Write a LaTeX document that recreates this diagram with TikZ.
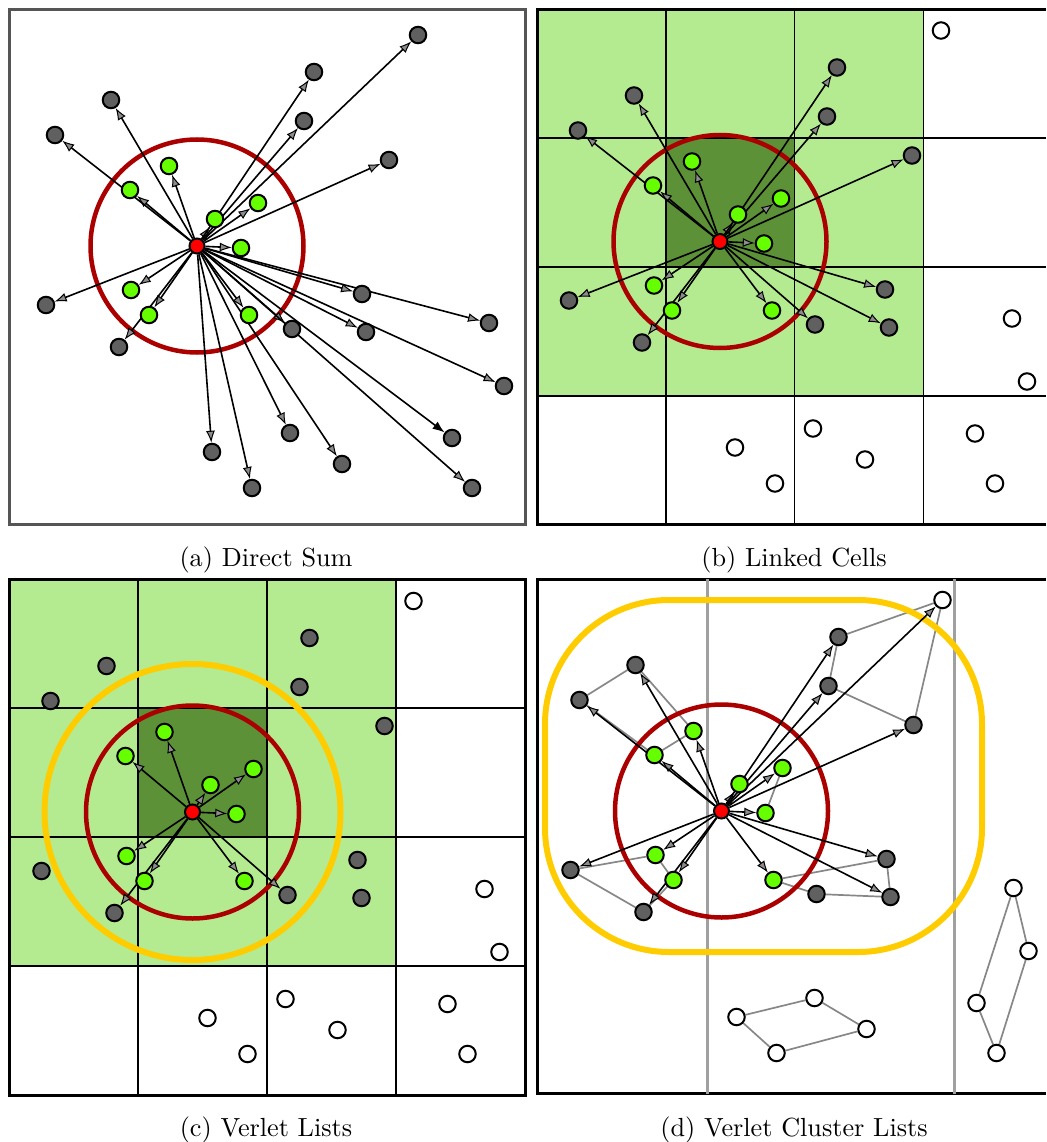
\documentclass[tikz,border=0pt]{standalone}
\usepackage{graphicx}
\usetikzlibrary{arrows.meta}
\definecolor{lgreen}{RGB}{180,235,145}
\definecolor{dgreen}{RGB}{92,145,55}
\definecolor{pgreen}{RGB}{102,255,0}
\definecolor{pgray}{RGB}{96,96,96}
\definecolor{cred}{RGB}{170,0,0}
\definecolor{cyel}{RGB}{255,204,0}
\definecolor{fgray}{RGB}{85,85,85}
\definecolor{vgray}{RGB}{160,160,160}
\definecolor{clgray}{RGB}{135,135,135}
\definecolor{tipgray}{RGB}{140,140,140}
\pgfdeclarelayer{back}
\pgfdeclarelayer{mid}
\pgfsetlayers{back,mid,main}
\def\greens{g1/-28/-80,g2/-67/-56,g3/18/-27,g4/61/-43,g5/44/2,g6/-66/44,g7/-48/69,g8/52/69}
\def\nearl{p2/117/-174,p3/-86/-146,p4/107/-125,p5/-142/-111,p6/192/-86,p7/-151/59,p8/-78/101,p9/165/48,p11/95/83,p12/169/86}
\def\farl{p1/221/-211,p10/292/77,p13/307/140,p14/93/187,p15/15/206,p16/145/218,p17/255/192,p18/55/242,p19/275/242}
\begin{document}
\begin{tikzpicture}[x=1pt,y=-1pt,
  part/.style={circle,draw=black,line width=2pt,minimum size=16.5pt,inner sep=0pt},
  grn/.style={part,fill=pgreen},
  gry/.style={part,fill=pgray},
  wht/.style={part,fill=white},
  ctr/.style={part,fill=red,minimum size=15pt},
  arr/.style={line width=1.6pt,-{Latex[length=12pt,width=9pt,fill=tipgray,line width=1pt]}},
  arrb/.style={line width=1.6pt,-{Latex[length=12pt,width=9pt]}},
  cutoff/.style={draw=cred,line width=4.5pt},
  skin/.style={draw=cyel,line width=6pt},
  gridline/.style={line width=1.6pt,draw=black},
  frm/.style={line width=3pt,draw=black},
  clus/.style={line width=1.7pt,draw=clgray},
  captxt/.style={inner sep=0pt,anchor=base}]
\useasboundingbox (0,0) rectangle (1046,1142);

% ---------------- (a) Direct Sum ----------------
\begin{scope}[shift={(197,246)}]
  \node[ctr] (ar) at (0,0) {};
  \foreach \n/\u/\v in \greens {\node[grn] (a\n) at (\u,\v) {};}
  \foreach \n/\u/\v in \nearl {\node[gry] (a\n) at (\u,\v) {};}
  \foreach \n/\u/\v in \farl {\node[gry] (a\n) at (\u,\v) {};}
\end{scope}
\begin{pgfonlayer}{back}
  \draw[line width=3pt,draw=fgray] (9,9.5) rectangle (525,524.5);
  \draw[cutoff] (ar) circle[radius=106.5];
\end{pgfonlayer}
\begin{pgfonlayer}{mid}
  \foreach \n/\u/\v in \greens {\draw[arr] (ar) -- (a\n);}
  \foreach \n/\u/\v in \nearl {\draw[arr] (ar) -- (a\n);}
  \foreach \n in {p1,p10,p13,p14,p15,p16,p18,p19} {\draw[arr] (ar) -- (a\n);}
  \draw[arrb] (ar) -- (ap17);
\end{pgfonlayer}
\node[captxt] (capa) at (266,566) {\scalebox{2.62}{(a) Direct Sum}};

% ---------------- (b) Linked Cells ----------------
\begin{scope}[shift={(720,241.5)}]
  \node[ctr] (br) at (0,0) {};
  \foreach \n/\u/\v in \greens {\node[grn] (b\n) at (\u,\v) {};}
  \foreach \n/\u/\v in \nearl {\node[gry] (b\n) at (\u,\v) {};}
  \foreach \n/\u/\v in \farl {\node[wht] (b\n) at (\u,\v) {};}
\end{scope}
\begin{pgfonlayer}{back}
  \fill[lgreen] (537,9.5) rectangle (923.4,395.9);
  \fill[dgreen] (665.8,138.3) rectangle (794.6,267.1);
  \foreach \x in {665.8,794.6,923.4} {\draw[gridline] (\x,9.5) -- (\x,524.7);}
  \foreach \y in {138.3,267.1,395.9} {\draw[gridline] (537,\y) -- (1046,\y);}
  \draw[frm] (1046,9.5) -- (537,9.5) -- (537,524.7) -- (1046,524.7);
  \draw[cutoff] (br) circle[radius=106.5];
\end{pgfonlayer}
\begin{pgfonlayer}{mid}
  \foreach \n/\u/\v in \greens {\draw[arr] (br) -- (b\n);}
  \foreach \n/\u/\v in \nearl {\draw[arr] (br) -- (b\n);}
\end{pgfonlayer}
\node[captxt] (capb) at (794,566) {\scalebox{2.62}{(b) Linked Cells}};

% ---------------- (c) Verlet Lists ----------------
\begin{scope}[shift={(192.5,812)}]
  \node[ctr] (cr) at (0,0) {};
  \foreach \n/\u/\v in \greens {\node[grn] (c\n) at (\u,\v) {};}
  \foreach \n/\u/\v in \nearl {\node[gry] (c\n) at (\u,\v) {};}
  \foreach \n/\u/\v in \farl {\node[wht] (c\n) at (\u,\v) {};}
\end{scope}
\begin{pgfonlayer}{back}
  \fill[lgreen] (9,579) rectangle (396,966);
  \fill[dgreen] (138,708) rectangle (267,837);
  \foreach \x in {138,267,396} {\draw[gridline] (\x,579) -- (\x,1095);}
  \foreach \y in {708,837,966} {\draw[gridline] (9,\y) -- (525,\y);}
  \draw[frm] (9,579) rectangle (525,1095);
  \draw[skin] (cr) circle[radius=148];
  \draw[cutoff] (cr) circle[radius=106.5];
\end{pgfonlayer}
\begin{pgfonlayer}{mid}
  \foreach \n/\u/\v in \greens {\draw[arr] (cr) -- (c\n);}
  \draw[arr] (cr) -- (cp8);
  \draw[arr] (cr) -- (cp11);
\end{pgfonlayer}
\node[captxt] (capc) at (266,1136) {\scalebox{2.62}{(c) Verlet Lists}};

% ---------------- (d) Verlet Cluster Lists ----------------
\begin{scope}[shift={(721.5,811)}]
  \node[ctr] (dr) at (0,0) {};
  \foreach \n/\u/\v in \greens {\node[grn] (d\n) at (\u,\v) {};}
  \foreach \n/\u/\v in \nearl {\node[gry] (d\n) at (\u,\v) {};}
  \foreach \n/\u/\v in \farl {\node[wht] (d\n) at (\u,\v) {};}
\end{scope}
\begin{pgfonlayer}{back}
  \draw[frm] (1046,579) -- (537,579) -- (537,1093.5) -- (1046,1093.5);
  \draw[line width=3pt,draw=vgray] (707,579) -- (707,1093.5);
  \draw[line width=3pt,draw=vgray] (954,579) -- (954,1093.5);
  % clusters
  \draw[clus] (dp5) -- (dp3) -- (dg1) -- (dg2) -- (dp5);
  \draw[clus] (dp1) -- (dp2) -- (dp4) -- (dp6) -- (dp1);
  \draw[clus] (dg4) -- (dg5);
  \draw[clus] (dp7) -- (dg6) -- (dg7) -- (dp8) -- (dp7);
  \draw[clus] (dg8) -- (dp9) -- (dp12) -- (dp11) -- (dg8);
  \draw[clus] (dp15) -- (dp14) -- (dp16) -- (dp18) -- (dp15);
  \draw[clus] (dp10) -- (dp13) -- (dp19) -- (dp17) -- (dp10);
  \draw[skin,rounded corners=124pt] (545,600) rectangle (982,952);
  \draw[cutoff] (dr) circle[radius=106.5];
\end{pgfonlayer}
\begin{pgfonlayer}{mid}
  \foreach \n/\u/\v in \greens {\draw[arr] (dr) -- (d\n);}
  \foreach \n in {p1,p2,p3,p4,p5,p6,p7,p8,p9,p12} {\draw[arr] (dr) -- (d\n);}
\end{pgfonlayer}
\node[captxt] (capd) at (794,1136) {\scalebox{2.62}{(d) Verlet Cluster Lists}};
\end{tikzpicture}
\end{document}
